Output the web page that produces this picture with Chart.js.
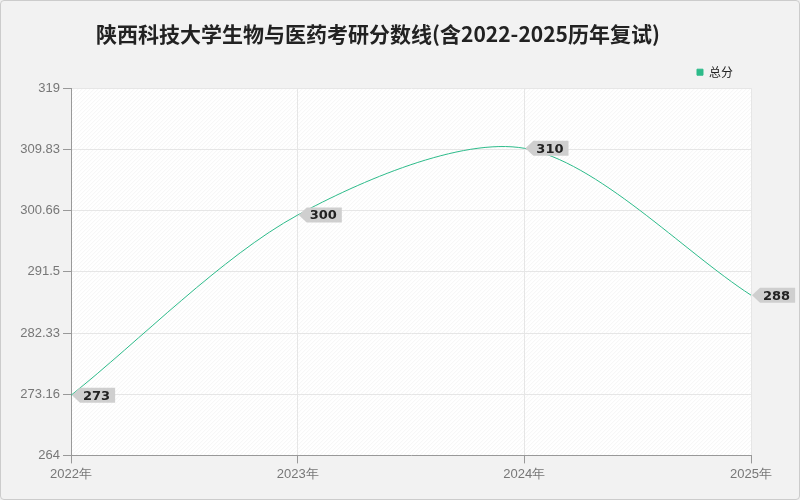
<!DOCTYPE html>
<html>
<head>
<meta charset="utf-8">
<script src="https://cdn.jsdelivr.net/npm/chart.js@4/dist/chart.umd.min.js"></script>
<style>
  html, body { margin: 0; padding: 0; background: #f0f0f0; }
  #wrap { position: relative; width: 798px; height: 498px; border: 1px solid #ccc; border-radius: 4px; background: #f2f2f2; }
</style>
</head>
<body>
<div id="wrap"><canvas id="c" width="798" height="498"></canvas></div>
<script>
"use strict";

const YEARS = ["2022年", "2023年", "2024年", "2025年"];
const TOTAL = [273, 300, 310, 288];
const Y_TICKS = [264, 273.16, 282.33, 291.5, 300.66, 309.83, 319];
const LINE_COLOR = "#2dbb8a";

// plot background: white with faint diagonal hatch
const plotBg = {
  id: "plotBg",
  beforeDraw(chart) {
    const { ctx, chartArea: a } = chart;
    ctx.save();
    ctx.fillStyle = "#ffffff";
    ctx.fillRect(a.left, a.top, a.right - a.left, a.bottom - a.top);
    ctx.beginPath();
    ctx.rect(a.left, a.top, a.right - a.left, a.bottom - a.top);
    ctx.clip();
    ctx.strokeStyle = "#f5f5f5";
    ctx.lineWidth = 1;
    for (let x = a.left - (a.bottom - a.top); x < a.right; x += 4) {
      ctx.beginPath();
      ctx.moveTo(x, a.bottom);
      ctx.lineTo(x + (a.bottom - a.top), a.top);
      ctx.stroke();
    }
    ctx.restore();
  },
};

// grey tag labels with left-pointing arrow
const tags = {
  id: "tags",
  afterDatasetsDraw(chart) {
    const { ctx } = chart;
    const meta = chart.getDatasetMeta(0);
    ctx.save();
    ctx.font = "bold 13px 'DejaVu Sans', sans-serif";
    ctx.textBaseline = "middle";
    meta.data.forEach((pt, i) => {
      const text = String(TOTAL[i]);
      const w = ctx.measureText(text).width + 8;
      const h = 15;
      const x = pt.x + 1, y = pt.y;
      ctx.fillStyle = "#cfcfcf";
      ctx.beginPath();
      ctx.moveTo(x, y);
      ctx.lineTo(x + 8, y - h / 2);
      ctx.lineTo(x + 8 + w, y - h / 2);
      ctx.lineTo(x + 8 + w, y + h / 2);
      ctx.lineTo(x + 8, y + h / 2);
      ctx.closePath();
      ctx.fill();
      ctx.fillStyle = "#222";
      ctx.fillText(text, x + 11, y + 1);
    });
    ctx.restore();
  },
};

new Chart(document.getElementById("c"), {
  type: "line",
  data: {
    labels: YEARS,
    datasets: [{
      label: "总分",
      data: TOTAL,
      borderColor: LINE_COLOR,
      backgroundColor: LINE_COLOR,
      borderWidth: 1,
      tension: 0.3,
      pointRadius: 0,
      fill: false,
    }],
  },
  options: {
    responsive: false,
    animation: false,
    layout: { padding: { left: 4, right: 48, top: 10, bottom: 14 } },
    plugins: {
      title: {
        display: true,
        text: "陕西科技大学生物与医药考研分数线(含2022-2025历年复试)",
        color: "#222",
        font: { size: 21, weight: "bold", family: "'Noto Sans CJK SC', sans-serif" },
        padding: { top: 10, bottom: 2 },
      },
      legend: {
        align: "end",
        labels: {
          boxWidth: 6, boxHeight: 6, color: "#222", padding: 18,
          font: { size: 12, family: "'Noto Sans CJK SC', sans-serif" },
        },
      },
      tooltip: { enabled: false },
    },
    scales: {
      x: {
        offset: false,
        grid: { color: "#e6e6e6", tickColor: "#999" },
        border: { color: "#999" },
        ticks: { color: "#777", font: { size: 13 }, maxRotation: 0 },
      },
      y: {
        min: 264, max: 319,
        afterBuildTicks(axis) { axis.ticks = Y_TICKS.map(v => ({ value: v })); },
        afterFit(axis) { axis.width = 66; },
        grid: { color: "#e6e6e6", tickColor: "#999" },
        border: { color: "#999" },
        ticks: { color: "#777", font: { size: 13 }, callback: v => String(v) },
      },
    },
  },
  plugins: [plotBg, tags],
});
</script>
</body>
</html>
